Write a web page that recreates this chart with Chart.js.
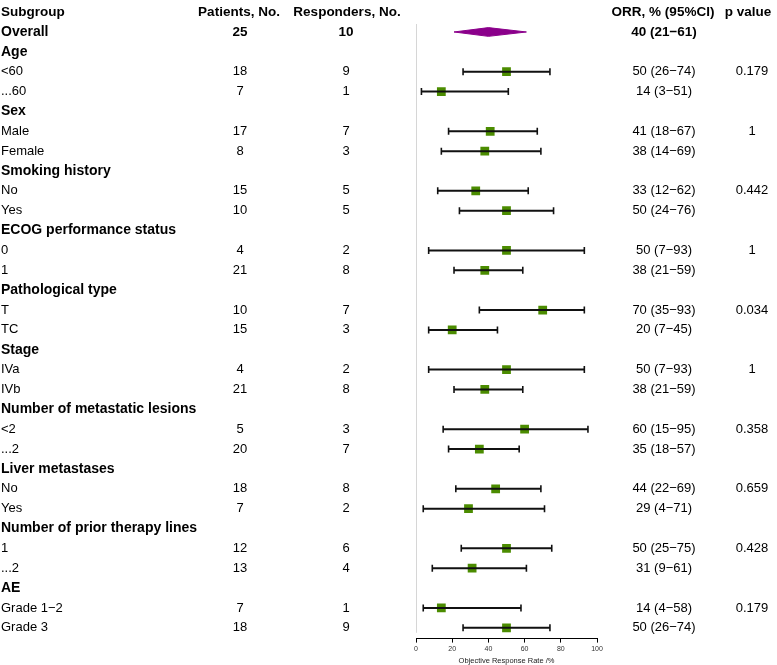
<!DOCTYPE html>
<html>
<head>
<meta charset="utf-8">
<script src="https://cdn.jsdelivr.net/npm/chart.js@4"></script>
<style>
  html, body { margin: 0; padding: 0; background: #fff; }
  #wrap { width: 777px; height: 665px; }
</style>
</head>
<body>
<div id="wrap"><canvas id="forest"></canvas></div>
<script>
const headers = ['Subgroup', 'Patients, No.', 'Responders, No.', 'ORR, % (95%CI)', 'p value'];

const labels = ['Overall', 'Age', '<60', '...60', 'Sex', 'Male', 'Female', 'Smoking history', 'No', 'Yes',
    'ECOG performance status', '0', '1', 'Pathological type', 'T', 'TC', 'Stage', 'IVa', 'IVb',
    'Number of metastatic lesions', '<2', '...2', 'Liver metastases', 'No', 'Yes',
    'Number of prior therapy lines', '1', '...2', 'AE', 'Grade 1\u22122', 'Grade 3'];
const isGroup = [false, true, false, false, true, false, false, true, false, false,
    true, false, false, true, false, false, true, false, false,
    true, false, false, true, false, false,
    true, false, false, true, false, false];
const patients = [25, null, 18, 7, null, 17, 8, null, 15, 10, null, 4, 21, null, 10, 15, null, 4, 21,
    null, 5, 20, null, 18, 7, null, 12, 13, null, 7, 18];
const responders = [10, null, 9, 1, null, 7, 3, null, 5, 5, null, 2, 8, null, 7, 3, null, 2, 8,
    null, 3, 7, null, 8, 2, null, 6, 4, null, 1, 9];
const orr = [40, null, 50, 14, null, 41, 38, null, 33, 50, null, 50, 38, null, 70, 20, null, 50, 38,
    null, 60, 35, null, 44, 29, null, 50, 31, null, 14, 50];
const ciLow = [21, null, 26, 3, null, 18, 14, null, 12, 24, null, 7, 21, null, 35, 7, null, 7, 21,
    null, 15, 18, null, 22, 4, null, 25, 9, null, 4, 26];
const ciHigh = [61, null, 74, 51, null, 67, 69, null, 62, 76, null, 93, 59, null, 93, 45, null, 93, 59,
    null, 95, 57, null, 69, 71, null, 75, 61, null, 58, 74];
const pValues = [null, null, '0.179', null, null, '1', null, null, '0.442', null, null, '1', null, null,
    '0.034', null, null, '1', null, null, '0.358', null, null, '0.659', null, null, '0.428', null,
    null, '0.179', null];
const xTicks = [0, 20, 40, 60, 80, 100];

// row 0 is the header line, data rows start at 1
const whiskers = [], caps = [], boxes = [];
orr.forEach((v, i) => {
    if (v === null || i === 0) return;
    const r = i + 1;
    whiskers.push({x: ciLow[i], y: r}, {x: ciHigh[i], y: r}, {x: null, y: null});
    caps.push({x: ciLow[i], y: r}, {x: ciHigh[i], y: r});
    boxes.push({x: v, y: r});
});
const dh = 0.22;
const diamond = [
    {x: ciLow[0], y: 1}, {x: orr[0], y: 1 - dh}, {x: ciHigh[0], y: 1},
    {x: orr[0], y: 1 + dh}, {x: ciLow[0], y: 1}
];

const FONT = '"Liberation Sans", Arial, sans-serif';
const minus = s => String(s);
const ciText = i => orr[i] + ' (' + ciLow[i] + '\u2212' + ciHigh[i] + ')';

const tablePlugin = {
    id: 'table',
    afterDatasetsDraw(chart) {
        const ctx = chart.ctx;
        const y = chart.scales.y;
        ctx.save();
        ctx.fillStyle = '#000';
        ctx.textBaseline = 'middle';

        const hy = y.getPixelForValue(0);
        ctx.font = 'bold 13.5px ' + FONT;
        ctx.textAlign = 'left';
        ctx.fillText(headers[0], 1, hy);
        ctx.textAlign = 'center';
        ctx.fillText(headers[1], 239, hy);
        ctx.fillText(headers[2], 347, hy);
        ctx.fillText(headers[3], 663, hy);
        ctx.fillText(headers[4], 748, hy);

        labels.forEach((lab, i) => {
            const py = y.getPixelForValue(i + 1);
            const bold = isGroup[i] || i === 0;
            ctx.font = (bold ? 'bold 14px ' : '13px ') + FONT;
            ctx.textAlign = 'left';
            ctx.fillText(lab, 1, py);
            if (patients[i] === null) return;
            ctx.font = (i === 0 ? 'bold 13.5px ' : '13px ') + FONT;
            ctx.textAlign = 'center';
            ctx.fillText(minus(patients[i]), 240, py);
            ctx.fillText(minus(responders[i]), 346, py);
            ctx.fillText(ciText(i), 664, py);
            if (pValues[i] !== null) ctx.fillText(pValues[i], 752, py);
        });
        ctx.restore();
    }
};

new Chart(document.getElementById('forest'), {
    type: 'line',
    data: {
        datasets: [
            {
                data: [{x: 0, y: 0.6}, {x: 0, y: 31.25}],
                borderColor: '#c8c8c8', borderWidth: 1.5, pointRadius: 0
            },
            {
                data: whiskers, borderColor: '#111', borderWidth: 2, pointRadius: 0, spanGaps: false
            },
            {
                type: 'scatter', data: caps, pointStyle: 'line', rotation: 90,
                radius: 3.5, borderColor: '#111', borderWidth: 1.6
            },
            {
                type: 'scatter', data: boxes, pointStyle: 'rect', radius: 6.2,
                backgroundColor: '#4b8c00', borderColor: '#4b8c00', borderWidth: 0
            },
            {
                data: diamond, borderColor: '#8b008b', backgroundColor: '#8b008b',
                borderWidth: 1, pointRadius: 0, fill: 'shape', tension: 0
            }
        ]
    },
    options: {
        animation: false,
        responsive: true,
        maintainAspectRatio: false,
        events: [],
        layout: { padding: { left: 416, right: 180, top: 0, bottom: 0 } },
        plugins: { legend: { display: false }, tooltip: { enabled: false } },
        scales: {
            x: {
                type: 'linear', position: 'bottom', min: 0, max: 100,
                afterBuildTicks: s => { s.ticks = xTicks.map(v => ({value: v})); },
                ticks: { font: { size: 7, family: FONT }, color: '#333', padding: 2 },
                grid: { drawOnChartArea: false, tickLength: 4, color: '#000' },
                border: { color: '#000', width: 1 },
                title: {
                    display: true, text: 'Objective Response Rate /%',
                    font: { size: 7.5, family: FONT }, color: '#222', padding: { top: 1, bottom: 0 }
                }
            },
            y: {
                type: 'linear', reverse: true, min: -0.298, max: 31.544, display: false
            }
        }
    },
    plugins: [tablePlugin]
});
</script>
</body>
</html>
